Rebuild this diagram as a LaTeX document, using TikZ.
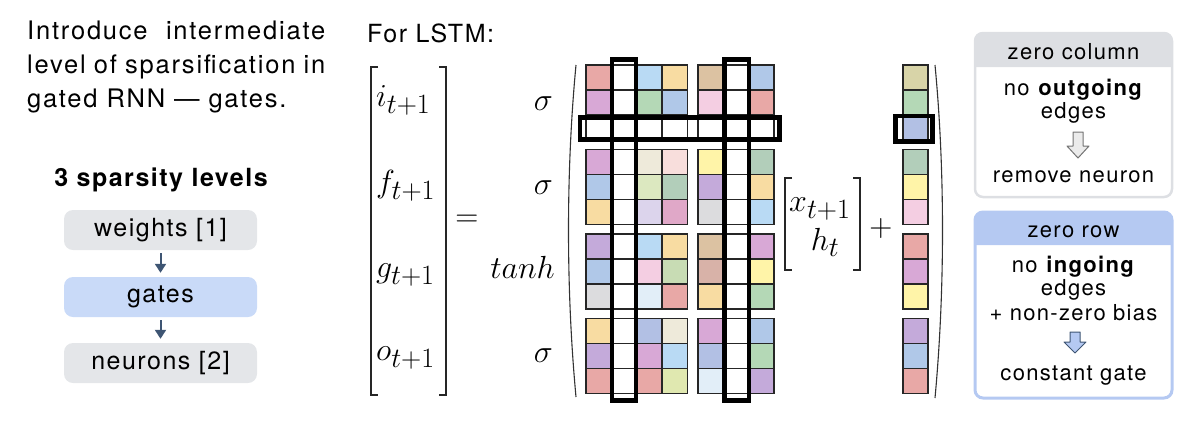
\RequirePackage{fix-cm}
\documentclass[tikz,border=0pt]{standalone}
\usepackage{amsmath}
\usepackage[no-math]{fontspec}
\setmainfont{TeX Gyre Heros}[LetterSpace=6]
\usepackage{tikz}
\usetikzlibrary{arrows.meta}
\DeclareMathSizes{32}{32}{28}{22}

\definecolor{cRed}{HTML}{E8A8A6}
\definecolor{cOrchid}{HTML}{D8A8D6}
\definecolor{cSky}{HTML}{B9DAF4}
\definecolor{cPeach}{HTML}{F8DCA2}
\definecolor{cTan}{HTML}{DCC2A2}
\definecolor{cBlue}{HTML}{B0C8E8}
\definecolor{cPink}{HTML}{F4CEE2}
\definecolor{cGreen}{HTML}{B4D8B6}
\definecolor{cLilac}{HTML}{C4AADA}
\definecolor{cYellow}{HTML}{FFF4A8}
\definecolor{cSage}{HTML}{B2CEBA}
\definecolor{cBeige}{HTML}{EEEADA}
\definecolor{cBlush}{HTML}{F8DEDC}
\definecolor{cLime}{HTML}{DCE8C0}
\definecolor{cLavender}{HTML}{DCD4EC}
\definecolor{cRose}{HTML}{E0A8C8}
\definecolor{cGrey}{HTML}{DCDCDE}
\definecolor{cIce}{HTML}{E2EEF8}
\definecolor{cMoss}{HTML}{C8DCB4}
\definecolor{cClay}{HTML}{D8B2A8}
\definecolor{cPeri}{HTML}{B2C0E4}
\definecolor{cKhaki}{HTML}{D8D4A8}
\definecolor{cPaleLime}{HTML}{E0E8B0}
\definecolor{lvGray}{HTML}{E4E6E9}
\definecolor{lvBlue}{HTML}{C9DAF8}
\definecolor{arrBlue}{HTML}{3E5573}
\definecolor{boxGray}{HTML}{DDDFE3}
\definecolor{boxBlue}{HTML}{B5C9F2}

\tikzset{
  cell/.style={draw=black!85, line width=1.4pt},
  zerobox/.style={draw=black, line width=4.5pt},
  brk/.style={line width=1.8pt, black!85},
  paren/.style={line width=1.1pt, black!80},
  txt/.style={font=\fontsize{25}{30}\selectfont, inner sep=0pt},
  introtxt/.style={font=\fontsize{25.5}{30}\selectfont\addfontfeature{LetterSpace=7}, inner sep=0pt},
  boxtxt/.style={font=\fontsize{22}{26}\selectfont, inner sep=0pt},
  mth/.style={font=\fontsize{32}{36}\selectfont, inner sep=0pt},
  level/.style={rounded corners=9pt, minimum width=193pt, minimum height=40pt,
    font=\fontsize{25}{30}\selectfont, inner sep=0pt},
}

% one row of the weight matrix: y, then seven cell colours
\newcommand{\cellrow}[8]{%
  \foreach \c/\x in {#2/586,#3/611.3,#4/636.6,#5/661.9,#6/698,#7/723.3,#8/748.6}
    \filldraw[cell, fill=\c] (\x,#1) rectangle ++(25.3,25);}

\begin{document}
\begin{tikzpicture}[x=1pt, y=-1pt, >={Triangle[length=9pt,width=11pt]}]
    \useasboundingbox (0,0) rectangle (1200,424);
    % intro text
    \node[introtxt, anchor=base west] (intro1) at (27,39) {\makebox[298pt][s]{Introduce intermediate}};
    \node[introtxt, anchor=base west] (intro2) at (27,73) {\makebox[298pt][s]{level of sparsification in}};
    \node[introtxt, anchor=base west] (intro3) at (27,107) {gated RNN --- gates.};
    % sparsity levels
    \node[txt, anchor=base, font=\fontsize{25}{30}\bfseries] (levels) at (161,186) {3 sparsity levels};
    \node[level, fill=lvGray] (weights) at (160.5,230) {weights [1]};
    \node[level, fill=lvBlue] (gates) at (160.5,297) {gates};
    \node[level, fill=lvGray] (neurons) at (160.5,363) {neurons [2]};
    \draw[->, arrBlue, line width=2pt] ([yshift=-3pt]weights.south) -- ([yshift=4pt]gates.north);
    \draw[->, arrBlue, line width=2pt] ([yshift=-3pt]gates.south) -- ([yshift=4pt]neurons.north);

    % LSTM equation
    \node[txt, anchor=base west] (lstm) at (367,42) {For LSTM:};
    \draw[brk] (378,67) -- (371,67) -- (371,395) -- (378,395);
    \draw[brk] (439,67) -- (446,67) -- (446,395) -- (439,395);
    \node[mth, anchor=base west] (it) at (376,106) {$i_{t+1}$};
    \node[mth, anchor=base west] (ft) at (376,192) {$f_{t+1}$};
    \node[mth, anchor=base west] (gt) at (376,277) {$g_{t+1}$};
    \node[mth, anchor=base west] (ot) at (376,360) {$o_{t+1}$};
    \node[mth] (eq) at (467,221) {$=$};
    \node[mth, anchor=base east] (s1) at (553,110) {$\sigma$};
    \node[mth, anchor=base east] (s2) at (553,194) {$\sigma$};
    \node[mth, anchor=base east] (th) at (555,278) {$tanh$};
    \node[mth, anchor=base east] (s4) at (553,362) {$\sigma$};
    \draw[paren] (576,65) .. controls (566,170) and (566,290) .. (576,397);
    \draw[paren] (935,65) .. controls (945,170) and (945,290) .. (935,398);

    % weight matrix, four gate blocks
    \cellrow{65}{cRed}{white}{cSky}{cPeach}{cTan}{white}{cBlue}
    \cellrow{90}{cOrchid}{white}{cGreen}{cBlue}{cPink}{white}{cRed}
    \cellrow{115}{white}{white}{white}{white}{white}{white}{white}
    \cellrow{149.5}{cOrchid}{white}{cBeige}{cBlush}{cYellow}{white}{cSage}
    \cellrow{174.5}{cBlue}{white}{cLime}{cSage}{cLilac}{white}{cPeach}
    \cellrow{199.5}{cPeach}{white}{cLavender}{cRose}{cGrey}{white}{cSky}
    \cellrow{234}{cLilac}{white}{cSky}{cPeach}{cTan}{white}{cOrchid}
    \cellrow{259}{cBlue}{white}{cPink}{cMoss}{cClay}{white}{cYellow}
    \cellrow{284}{cGrey}{white}{cIce}{cRed}{cPeach}{white}{cGreen}
    \cellrow{318.5}{cPeach}{white}{cPeri}{cBeige}{cOrchid}{white}{cBlue}
    \cellrow{343.5}{cLilac}{white}{cOrchid}{cSky}{cPeri}{white}{cGreen}
    \cellrow{368.5}{cRed}{white}{cRed}{cPaleLime}{cIce}{white}{cLilac}
    % zero columns and zero row
    \draw[zerobox] (612,59.5) rectangle (636,400.5);
    \draw[zerobox] (724.5,59.5) rectangle (749,400.5);
    \draw[zerobox] (580,117.5) rectangle (779.5,139.5);

    % input vector
    \draw[brk] (792,178) -- (785,178) -- (785,270) -- (792,270);
    \draw[brk] (853,178) -- (860,178) -- (860,270) -- (853,270);
    \node[mth, anchor=base west] (xt) at (789,211) {$x_{t+1}$};
    \node[mth, anchor=base] (ht) at (825,250) {$h_t$};
    \node[mth] (plus) at (881,228) {$+$};

    % bias vector
    \foreach \c/\y in {cKhaki/65,cGreen/90,cPeri/115,cSage/149.5,cYellow/174.5,cPink/199.5,
                       cRed/234,cOrchid/259,cYellow/284,cLilac/318.5,cBlue/343.5,cRed/368.5}
      \filldraw[cell, fill=\c] (903,\y) rectangle ++(25,25);
    \draw[zerobox] (895.5,116) rectangle (932.5,141.5);

    % zero column box
    \fill[boxGray] (975,67) [rounded corners=8pt] -- (975,33) -- (1172,33) [sharp corners] -- (1172,67) -- cycle;
    \draw[boxGray, line width=2.5pt, rounded corners=8pt] (975,33) rectangle (1172,197);
    \node[boxtxt, anchor=base] (zcol) at (1073.5,59) {zero column};
    \node[boxtxt, anchor=base] (zcol1) at (1073.5,95) {no \textbf{outgoing}};
    \node[boxtxt, anchor=base] (zcol2) at (1073.5,118) {edges};
    \filldraw[fill=black!8, draw=black!55, line width=1pt, line join=round]
      (1073,132) -- (1083,132) -- (1083,146) -- (1089,146) -- (1078,158) -- (1067,146) -- (1073,146) -- cycle;
    \node[boxtxt, anchor=base] (zcol3) at (1073.5,182) {remove neuron};

    % zero row box
    \fill[boxBlue] (975,245) [rounded corners=8pt] -- (975,212) -- (1172,212) [sharp corners] -- (1172,245) -- cycle;
    \draw[boxBlue, line width=3pt, rounded corners=8pt] (975,212) rectangle (1172,398);
    \node[boxtxt, anchor=base] (zrow) at (1073.5,237) {zero row};
    \node[boxtxt, anchor=base] (zrow1) at (1073.5,272) {no \textbf{ingoing}};
    \node[boxtxt, anchor=base] (zrow2) at (1073.5,295) {edges};
    \node[boxtxt, anchor=base] (zrow3) at (1073.5,320) {+ non-zero bias};
    \filldraw[fill=boxBlue, draw=arrBlue, line width=1pt, line join=round]
      (1070,332) -- (1080,332) -- (1080,342) -- (1086,342) -- (1075,353) -- (1064,342) -- (1070,342) -- cycle;
    \node[boxtxt, anchor=base] (zrow4) at (1073.5,380) {constant gate};
\end{tikzpicture}
\end{document}
